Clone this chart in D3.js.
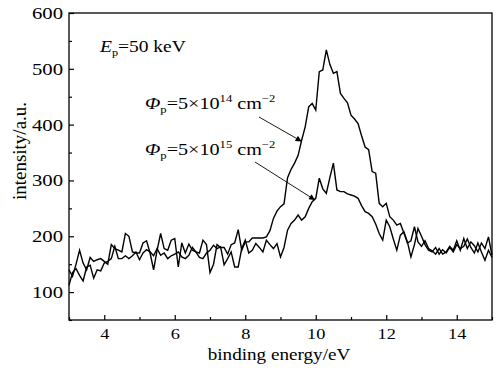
<!DOCTYPE html>
<html>
<head>
<meta charset="utf-8">
<script src="https://cdn.jsdelivr.net/npm/d3@7/dist/d3.min.js"></script>
<style>
  body { margin: 0; background: #fff; }
  svg text { font-family: "Liberation Serif", "Times New Roman", serif; fill: #000; }
</style>
</head>
<body>
<div id="chart"></div>
<script>
// binding energy grid (eV), 0.1 eV steps
const energy = [
  3.0, 3.1, 3.2, 3.3, 3.4, 3.5, 3.6, 3.7, 3.8, 3.9,
  4.0, 4.1, 4.2, 4.3, 4.4, 4.5, 4.6, 4.7, 4.8, 4.9,
  5.0, 5.1, 5.2, 5.3, 5.4, 5.5, 5.6, 5.7, 5.8, 5.9,
  6.0, 6.1, 6.2, 6.3, 6.4, 6.5, 6.6, 6.7, 6.8, 6.9,
  7.0, 7.1, 7.2, 7.3, 7.4, 7.5, 7.6, 7.7, 7.8, 7.9,
  8.0, 8.1, 8.2, 8.3, 8.4, 8.5, 8.6, 8.7, 8.8, 8.9,
  9.0, 9.1, 9.2, 9.3, 9.4, 9.5, 9.6, 9.7, 9.8, 9.9,
  10.0, 10.1, 10.2, 10.3, 10.4, 10.5, 10.6, 10.7, 10.8, 10.9,
  11.0, 11.1, 11.2, 11.3, 11.4, 11.5, 11.6, 11.7, 11.8, 11.9,
  12.0, 12.1, 12.2, 12.3, 12.4, 12.5, 12.6, 12.7, 12.8, 12.9,
  13.0, 13.1, 13.2, 13.3, 13.4, 13.5, 13.6, 13.7, 13.8, 13.9,
  14.0, 14.1, 14.2, 14.3, 14.4, 14.5, 14.6, 14.7, 14.8, 14.9,
  15.0
];

// Φp = 5×10^14 cm^-2
const dose14 = [
  140, 128, 150, 175, 152, 140, 162, 155, 158, 160,
  155, 150, 185, 178, 175, 172, 205, 200, 172, 170,
  170, 188, 192, 170, 140, 175, 205, 178, 175, 193,
  196, 145, 188, 170, 186, 175, 172, 170, 193, 185,
  135, 150, 185, 180, 180, 168, 185, 188, 212, 175,
  190, 190, 197, 197, 197, 197, 199, 210, 232, 245,
  253, 258, 305, 320, 331, 345, 372, 396, 432, 438,
  426, 495, 498, 534, 508, 492, 495, 456, 447, 439,
  417, 410, 402, 380, 360, 355, 316, 313, 259, 253,
  259, 235, 229, 220, 223, 206, 188, 192, 217, 190,
  182, 192, 178, 174, 168, 178, 168, 172, 182, 175,
  192, 175, 196, 178, 190, 183, 172, 188, 178, 199,
  166
];

// Φp = 5×10^15 cm^-2
const dose15 = [
  112, 135, 142, 130, 120, 145, 148, 125, 140, 138,
  152, 155, 160, 182, 160, 160, 165, 160, 165, 172,
  158, 170, 176, 172, 165, 178, 166, 170, 160, 165,
  168, 172, 163, 160, 166, 180, 172, 162, 160, 170,
  175, 184, 178, 181, 149, 160, 172, 145, 145, 178,
  193, 170, 175, 187, 180, 172, 193, 185, 178, 187,
  163, 180, 211, 223, 229, 238, 229, 235, 250, 262,
  268, 304, 285, 277, 305, 331, 283, 280, 280, 276,
  274, 272, 268, 255, 244, 241, 235, 222, 205, 193,
  229, 217, 195, 175, 202, 208, 190, 163, 185, 214,
  200, 185, 175, 172, 180, 168, 176, 170, 180, 172,
  185, 178, 182, 195, 180, 170, 188, 172, 157, 175,
  162
];

const xTicks = [4, 6, 8, 10, 12, 14];
const xMinor = [3, 5, 7, 9, 11, 13, 15];
const yTicks = [100, 200, 300, 400, 500, 600];
const yMinor = [50, 150, 250, 350, 450, 550];

const W = 499, H = 370;
const plot = { left: 69, right: 492, top: 13, bottom: 320 };
const SERIF = '"Liberation Serif", "Times New Roman", serif';
const STRETCH = 1.22; // the source picture is a bit wide, text looks stretched

const svg = d3.select('#chart').append('svg')
  .attr('width', W)
  .attr('height', H);

const x = d3.scaleLinear().domain([3, 15]).range([plot.left, plot.right]);
const y = d3.scaleLinear().domain([50, 600]).range([plot.bottom, plot.top]);

// widen a text horizontally around its own anchor
function stretch(sel, s) {
  sel.each(function () {
    const t = d3.select(this);
    const x0 = +t.attr('x') || 0;
    t.attr('transform', `translate(${x0 * (1 - s)},0) scale(${s},1)`);
  });
}

// curves
const line = d3.line()
  .x(d => x(d[0]))
  .y(d => y(d[1]));

[dose14, dose15].forEach(vals => {
  svg.append('path')
    .datum(energy.map((e, i) => [e, vals[i]]))
    .attr('fill', 'none')
    .attr('stroke', '#000')
    .attr('stroke-width', 1.4)
    .attr('d', line);
});

// frame
svg.append('rect')
  .attr('x', plot.left)
  .attr('y', plot.top)
  .attr('width', plot.right - plot.left)
  .attr('height', plot.bottom - plot.top)
  .attr('fill', 'none')
  .attr('stroke', '#000')
  .attr('stroke-width', 1.3);

// axes, ticks pointing inwards
const gx = svg.append('g')
  .attr('transform', `translate(0,${plot.bottom})`)
  .call(d3.axisBottom(x).tickValues(xTicks).tickSizeInner(-5).tickSizeOuter(0).tickPadding(8));
svg.append('g')
  .attr('transform', `translate(0,${plot.bottom})`)
  .call(d3.axisBottom(x).tickValues(xMinor).tickSizeInner(-3).tickSizeOuter(0).tickFormat(''));

const gy = svg.append('g')
  .attr('transform', `translate(${plot.left},0)`)
  .call(d3.axisLeft(y).tickValues(yTicks).tickSizeInner(-5).tickSizeOuter(0).tickPadding(6));
svg.append('g')
  .attr('transform', `translate(${plot.left},0)`)
  .call(d3.axisLeft(y).tickValues(yMinor).tickSizeInner(-3).tickSizeOuter(0).tickFormat(''));

svg.selectAll('.domain').remove();
svg.selectAll('.tick line').attr('stroke', '#000').attr('stroke-width', 1.2);
svg.selectAll('g').attr('font-family', null);
gx.selectAll('.tick text').style('font-family', SERIF).style('font-size', '15px');
gy.selectAll('.tick text').style('font-family', SERIF).style('font-size', '17px');
stretch(gx.selectAll('.tick text'), STRETCH);
stretch(gy.selectAll('.tick text'), STRETCH);

// axis titles
const xt = svg.append('text')
  .attr('x', 279)
  .attr('y', 360)
  .attr('text-anchor', 'middle')
  .style('font-size', '16.5px')
  .text('binding energy/eV');
stretch(xt, 1.16);

svg.append('text')
  .attr('transform', 'translate(26,151) rotate(-90)')
  .attr('text-anchor', 'middle')
  .style('font-size', '19px')
  .text('intensity/a.u.');

// E_p label
const ep = svg.append('text').attr('x', 100).attr('y', 52).style('font-size', '16px');
ep.append('tspan').attr('font-style', 'italic').text('E');
ep.append('tspan').style('font-size', '10px').attr('dy', 4).text('p');
ep.append('tspan').attr('dy', -4).text('=50 keV');
stretch(ep, STRETCH);

// dose labels with arrows
const notes = [
  { exp: '14', tx: 145, ty: 109, from: [259, 117], to: [9.6, 370] },
  { exp: '15', tx: 145, ty: 155, from: [255, 162], to: [9.98, 265] }
];

svg.append('defs').append('marker')
  .attr('id', 'arrow')
  .attr('viewBox', '0 0 10 10')
  .attr('refX', 10).attr('refY', 5)
  .attr('markerWidth', 9).attr('markerHeight', 6)
  .attr('markerUnits', 'userSpaceOnUse')
  .attr('orient', 'auto')
  .append('path')
  .attr('d', 'M0,0L10,5L0,10Z')
  .attr('fill', '#000');

notes.forEach(n => {
  const t = svg.append('text').attr('x', n.tx).attr('y', n.ty).style('font-size', '16px');
  t.append('tspan').attr('font-style', 'italic').text('Φ');
  t.append('tspan').style('font-size', '10px').attr('dy', 4).text('p');
  t.append('tspan').attr('dy', -4).text('=5×10');
  t.append('tspan').style('font-size', '10px').attr('dy', -7).text(n.exp);
  t.append('tspan').attr('dy', 7).text(' cm');
  t.append('tspan').style('font-size', '10px').attr('dy', -7).text('−2');
  stretch(t, 1.26);

  svg.append('line')
    .attr('x1', n.from[0]).attr('y1', n.from[1])
    .attr('x2', x(n.to[0])).attr('y2', y(n.to[1]))
    .attr('stroke', '#000')
    .attr('stroke-width', 0.9)
    .attr('marker-end', 'url(#arrow)');
});
</script>
</body>
</html>
